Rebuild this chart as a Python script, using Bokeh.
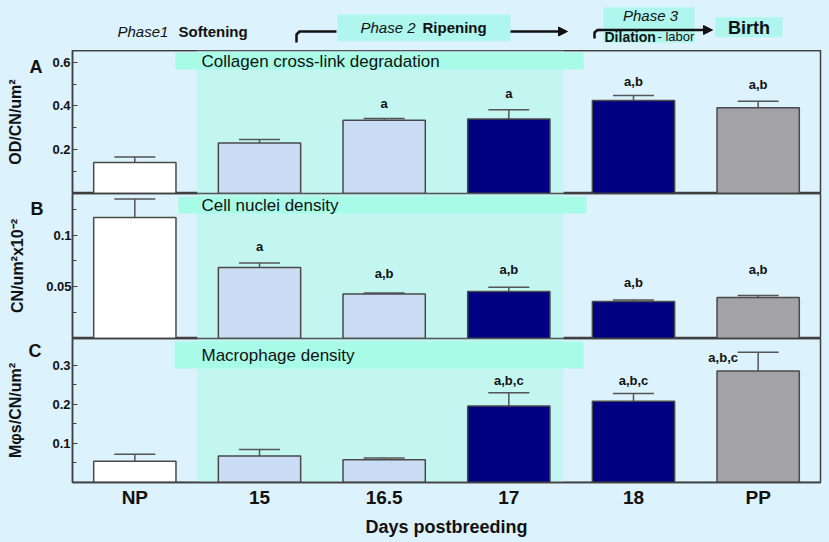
from bokeh.plotting import figure
from bokeh.layouts import column
from bokeh.models import (Range1d, FactorRange, FixedTicker, NumeralTickFormatter,
                          BoxAnnotation, Whisker, TeeHead, Label, Arrow, NormalHead,
                          ColumnDataSource, LinearAxis, CustomJSTickFormatter, Span)
from bokeh.embed import file_html
from bokeh.resources import INLINE
from bokeh.core.properties import value

# ---------------- data ----------------
days = ["NP", "15", "16.5", "17", "18", "PP"]
bar_colors = ["#FFFFFF", "#CBDCF5", "#CBDCF5", "#000080", "#000080", "#A3A3A7"]

collagen = [0.141, 0.231, 0.334, 0.340, 0.425, 0.392]
collagen_se = [0.026, 0.016, 0.008, 0.043, 0.023, 0.029]
collagen_sig = ["", "", "a", "a", "a,b", "a,b"]
collagen_sig_y = [0, 0, 0.410, 0.456, 0.511, 0.498]

nuclei = [0.117, 0.0687, 0.0431, 0.0455, 0.0358, 0.0397]
nuclei_se = [0.018, 0.0044, 0.0010, 0.0041, 0.0015, 0.0019]
nuclei_sig = ["", "a", "a,b", "a,b", "a,b", "a,b"]
nuclei_sig_y = [0, 0.0893, 0.0629, 0.0670, 0.0542, 0.0667]

macro = [0.0546, 0.068, 0.058, 0.196, 0.208, 0.286]
macro_se = [0.018, 0.0166, 0.005, 0.034, 0.020, 0.048]
macro_sig = ["", "", "", "a,b,c", "a,b,c", "a,b,c"]
macro_sig_y = [0, 0, 0, 0.262, 0.262, 0.3195]
macro_sig_dx = [0, 0, 0, 0, 0, -35]

# ---------------- style ----------------
PAGE_BG = "#DCF2FC"
SHADE = "#C3F6F1"
BAND = "#A8FBE6"
HEAD_BAND = "#AEF6EE"
LINE = "#404040"
FONT = "Liberation Sans"
W = 829
LEFT = 72
RIGHT = 9
FRAME_W = W - LEFT - RIGHT


def panel(h, ymax, ticks, minor, ylabel, letter, letter_y, tick_standoff, letter_standoff,
          label_standoff, bottom=0, xaxis=False):
    p = figure(width=W, height=h,
               x_range=FactorRange(*days),
               y_range=Range1d(0, ymax),
               output_backend="svg", toolbar_location=None,
               min_border_left=LEFT, min_border_right=RIGHT,
               min_border_top=0, min_border_bottom=bottom,
               x_axis_location="below" if xaxis else None)
    p.background_fill_color = PAGE_BG
    p.border_fill_color = PAGE_BG
    p.outline_line_color = LINE
    p.outline_line_width = 1.5
    p.grid.visible = False
    ax = p.yaxis[0]
    ax.ticker = FixedTicker(ticks=ticks, minor_ticks=minor)
    ax.formatter = NumeralTickFormatter(format="0.[00]")
    ax.major_tick_in = 5
    ax.major_tick_out = 0
    ax.minor_tick_in = 4
    ax.minor_tick_out = 0
    ax.major_tick_line_color = LINE
    ax.minor_tick_line_color = LINE
    ax.axis_line_color = LINE
    ax.axis_line_width = 1.5
    ax.major_label_text_font = FONT
    ax.major_label_text_font_size = "13px"
    ax.major_label_text_font_style = "bold"
    ax.major_label_text_color = "#111111"
    ax.major_label_standoff = tick_standoff
    # outer axis: carries the panel letter and the y title
    outer = LinearAxis(ticker=FixedTicker(ticks=[letter_y], minor_ticks=[]),
                       formatter=CustomJSTickFormatter(code="return '%s';" % letter),
                       axis_line_color=None, major_tick_line_color=None,
                       minor_tick_line_color=None,
                       major_tick_in=0, major_tick_out=0, minor_tick_in=0, minor_tick_out=0,
                       major_label_text_font=FONT, major_label_text_font_size="18px",
                       major_label_text_font_style="bold", major_label_text_color="#111111",
                       major_label_standoff=letter_standoff,
                       axis_label=ylabel, axis_label_text_font=FONT,
                       axis_label_text_font_size="16px", axis_label_text_font_style="bold",
                       axis_label_text_color="#111111", axis_label_standoff=label_standoff)
    p.add_layout(outer, "left")
    if xaxis:
        xa = p.xaxis[0]
        xa.major_tick_in = 0
        xa.major_tick_out = 0
        xa.axis_line_color = LINE
        xa.axis_line_width = 1.5
        xa.major_label_text_font = FONT
        xa.major_label_text_font_size = "19px"
        xa.major_label_text_font_style = "bold"
        xa.major_label_text_color = "#111111"
        xa.major_label_standoff = 4
        xa.axis_label = "Days postbreeding"
        xa.axis_label_text_font = FONT
        xa.axis_label_text_font_size = "18px"
        xa.axis_label_text_font_style = "bold"
        xa.axis_label_text_color = "#111111"
        xa.axis_label_standoff = 6
    return p


def ypix(px, top, frame_h, ymax):
    """page-pixel height inside a panel -> data units (decoration placement)"""
    return (top + frame_h - px) / frame_h * ymax


def xpix(px):
    return (px - LEFT) / (FRAME_W / len(days))


def decorate(p, top, frame_h, ymax, band_left, band_right, band_top, band_bot, text):
    p.add_layout(BoxAnnotation(left=1.0, right=3.94, fill_color=SHADE, fill_alpha=1.0,
                               line_color=None, level="underlay"))
    p.add_layout(BoxAnnotation(left=xpix(band_left), right=xpix(band_right),
                               top=ypix(band_top, top, frame_h, ymax),
                               bottom=ypix(band_bot, top, frame_h, ymax),
                               fill_color=BAND, fill_alpha=1.0, line_color=None, level="underlay"))
    p.add_layout(Label(x=xpix(201), y=ypix((band_top + band_bot) / 2, top, frame_h, ymax),
                       text=text, text_font=FONT, text_font_size="17px", text_color="#111111",
                       text_baseline="middle", text_align="left"))
    p.add_layout(Span(location=0, dimension="width", line_color=LINE, line_width=1.5))
    p.add_layout(Span(location=ymax, dimension="width", line_color=LINE, line_width=1.5))


def bars(p, vals, se, sig, sig_y, dx=None):
    src = ColumnDataSource(dict(day=days, val=vals, upper=[v + e for v, e in zip(vals, se)],
                                color=bar_colors))
    p.vbar(x="day", top="val", width=0.66, fill_color="color", line_color="#4A4A4A",
           line_width=1.5, source=src)
    p.add_layout(Whisker(base="day", lower="val", upper="upper", source=src,
                         dimension="height", line_color="#555555", line_width=1.5,
                         upper_head=TeeHead(size=41, line_color="#555555", line_width=1.5),
                         lower_head=None))
    if dx is None:
        dx = [0] * len(days)
    idx = [i for i, s in enumerate(sig) if s]
    lsrc = ColumnDataSource(dict(day=[days[i] for i in idx], y=[sig_y[i] for i in idx],
                                 t=[sig[i] for i in idx], dx=[dx[i] for i in idx]))
    p.text(x="day", y="y", text="t", x_offset="dx", source=lsrc,
           text_font=value(FONT), text_font_size="13px", text_font_style="bold",
           text_color="#111111", text_align="center", text_baseline="middle")


# ---------------- header ----------------
hdr = figure(width=W, height=50, x_range=Range1d(LEFT, W - RIGHT), y_range=Range1d(50, 0),
             output_backend="svg", toolbar_location=None,
             min_border_left=LEFT, min_border_right=RIGHT, min_border_top=0, min_border_bottom=0,
             x_axis_location=None, y_axis_location=None)
hdr.background_fill_color = PAGE_BG
hdr.border_fill_color = PAGE_BG
hdr.outline_line_color = None
hdr.grid.visible = False
hdr.quad(left=[337, 603, 715], right=[510, 694, 782], top=[14, 6.7, 16.7],
         bottom=[40.7, 42.3, 36.7], fill_color=HEAD_BAND, line_color=None)


def htext(x, y, t, style, size, align="left"):
    hdr.text(x=[x], y=[y], text=[t], text_font=value(FONT), text_font_style=style,
             text_font_size=size, text_color="#111111", text_align=align,
             text_baseline="middle")


htext(117, 31, "Phase1", "italic", "15px")
htext(178, 31, "Softening", "bold", "15px")
htext(360, 27, "Phase 2", "italic", "15px")
htext(422, 27, "Ripening", "bold", "15px")
htext(650, 15, "Phase 3", "italic", "15px", "center")
htext(604, 36, "Dilation", "bold", "14px")
htext(657, 36, "- labor", "normal", "13px")
htext(748.5, 27, "Birth", "bold", "18px", "center")

hdr.line(x=[296, 296, 299, 336], y=[42, 34, 31, 31], line_width=2.5, line_color="#111111",
         line_join="round")
hdr.add_layout(Arrow(x_start=510, y_start=31, x_end=567, y_end=31, line_width=2.5,
                     line_color="#111111",
                     end=NormalHead(size=9, fill_color="#111111", line_color="#111111")))
hdr.line(x=[594, 594, 597, 600], y=[38, 32, 29.5, 29.5], line_width=2.5, line_color="#111111",
         line_join="round")
hdr.add_layout(Arrow(x_start=599, y_start=29.5, x_end=712, y_end=29.5, line_width=2.5,
                     line_color="#111111",
                     end=NormalHead(size=9, fill_color="#111111", line_color="#111111")))

# ---------------- panels ----------------
pA = panel(143, 0.653, [0.2, 0.4, 0.6], [0.1, 0.3, 0.5], "OD/CN/um²", "A", 0.635, 2, 7, 3)
decorate(pA, 50, 143, 0.653, 175, 583, 52, 69, "Collagen cross-link degradation")
bars(pA, collagen, collagen_se, collagen_sig, collagen_sig_y)

pB = panel(145, 0.1402, [0.05, 0.1], [0.025, 0.075, 0.125], "CN/um²x10⁻²", "B", 0.1354, 1, 0, 2)
decorate(pB, 193, 145, 0.1402, 178, 586, 196, 213, "Cell nuclei density")
bars(pB, nuclei, nuclei_se, nuclei_sig, nuclei_sig_y)

pC = panel(204, 0.369, [0.1, 0.2, 0.3], [0.05, 0.15, 0.25], "Mφs/CN/um²", "C", 0.351, 2, 8, 2,
           bottom=60, xaxis=True)
decorate(pC, 338, 144, 0.369, 174, 583, 341, 368, "Macrophage density")
bars(pC, macro, macro_se, macro_sig, macro_sig_y, macro_sig_dx)

layout = column(hdr, pA, pB, pC, spacing=0)
html = file_html(layout, INLINE, title="chart")
html = html.replace("<body>", '<body style="margin:0;background-color:%s;">' % PAGE_BG)
open("out.html", "w").write(html)
